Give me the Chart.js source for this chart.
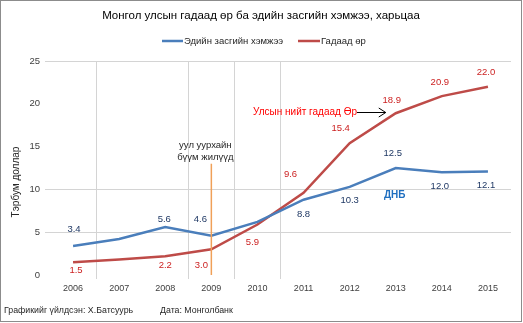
<!DOCTYPE html>
<html>
<head>
<meta charset="utf-8">
<script src="https://cdn.jsdelivr.net/npm/chart.js@4.4.0/dist/chart.umd.min.js"></script>
<style>
  html, body { margin: 0; padding: 0; background: #fff; }
  #wrap { width: 523px; height: 323px; position: relative; }
</style>
</head>
<body>
<div id="wrap"><canvas id="chart"></canvas></div>
<script>
// Data
const years = ['2006', '2007', '2008', '2009', '2010', '2011', '2012', '2013', '2014', '2015'];
const gdp = [3.4, 4.2, 5.6, 4.6, 6.2, 8.8, 10.3, 12.5, 12.0, 12.1];
const debt = [1.5, 1.8, 2.2, 3.0, 5.9, 9.6, 15.4, 18.9, 20.9, 22.0];
const gdpShown = [true, false, true, true, false, true, true, true, true, true];
const debtShown = [true, false, true, true, true, true, true, true, true, true];
const seriesNames = ['Эдийн засгийн хэмжээ', 'Гадаад өр'];
const yMin = 0, yMax = 25, yStep = 5;

// Layout bits (pixel offsets of value labels from their points)
const gdpLabelOffset = [[1, -17], null, [-1, -8], [-11, -16], null, [0, 15], [0, 14], [-3, -15], [-2, 14], [-2, 14]];
const debtLabelOffset = [[3, 8], null, [0, 9], [-10, 16], [-5, 18], [-13, -18], [-9, -15], [-4, -13], [-2, -14], [-2, -14]];

const FONT = "'Liberation Sans', Arial, sans-serif";
const BLUE = '#4a7ebb';
const RED = '#be4b48';
const GRID = '#d4d4d4';
const shownY = [5, 10, 25];
const shownX = [1, 3, 4, 5, 10];

Chart.defaults.font.family = FONT;
Chart.defaults.color = '#404040';

function font(size, weight) {
    return (weight || 'normal') + ' ' + size + 'px ' + FONT;
}

// Overlay: titles, legend, value labels, notes
const overlay = {
    id: 'overlay',
    afterDatasetsDraw(chart) {
        const { ctx, scales: { x, y } } = chart;
        ctx.save();

        // mining boom marker
        const bx = x.getPixelForValue(3);
        ctx.strokeStyle = '#f0a058';
        ctx.lineWidth = 1.5;
        ctx.beginPath();
        ctx.moveTo(bx, y.getPixelForValue(13.0));
        ctx.lineTo(bx, y.getPixelForValue(0));
        ctx.stroke();

        // value labels
        ctx.font = font(9.5);
        ctx.textAlign = 'center';
        ctx.textBaseline = 'middle';
        const drawLabels = (idx, vals, shown, offs, color) => {
            const meta = chart.getDatasetMeta(idx);
            ctx.fillStyle = color;
            meta.data.forEach((pt, i) => {
                if (!shown[i]) return;
                ctx.fillText(vals[i].toFixed(1), pt.x + offs[i][0], pt.y + offs[i][1]);
            });
        };
        drawLabels(0, gdp, gdpShown, gdpLabelOffset, '#1f3864');
        drawLabels(1, debt, debtShown, debtLabelOffset, '#cc2222');

        // notes
        ctx.fillStyle = '#262626';
        ctx.fillText('уул уурхайн', bx - 6, 145);
        ctx.fillText('бүүм жилүүд', bx - 6, 157);

        ctx.fillStyle = '#1f6fc0';
        ctx.font = font(10, 'bold');
        ctx.fillText('ДНБ', x.getPixelForValue(7) - 1, 195);

        ctx.fillStyle = '#ff0000';
        ctx.font = font(10);
        ctx.textAlign = 'right';
        ctx.fillText('Улсын нийт гадаад Өр', 357, 112);

        // arrow
        const ax = x.getPixelForValue(7) - 10;
        ctx.strokeStyle = '#000';
        ctx.lineWidth = 1;
        ctx.beginPath();
        ctx.moveTo(357, 112.5);
        ctx.lineTo(ax, 112.5);
        ctx.moveTo(ax - 7, 108);
        ctx.lineTo(ax, 112.5);
        ctx.lineTo(ax - 7, 117);
        ctx.stroke();
        ctx.restore();
    },
    afterDraw(chart) {
        const { ctx } = chart;
        ctx.save();
        ctx.textBaseline = 'middle';

        // title
        ctx.fillStyle = '#000';
        ctx.font = font(11.5);
        ctx.textAlign = 'center';
        ctx.fillText('Монгол улсын гадаад өр ба эдийн засгийн хэмжээ, харьцаа', 261, 16);

        // legend
        ctx.font = font(9.5);
        ctx.textAlign = 'left';
        ctx.fillStyle = '#262626';
        ctx.lineWidth = 2.5;
        ctx.strokeStyle = BLUE;
        ctx.beginPath(); ctx.moveTo(162, 41); ctx.lineTo(183, 41); ctx.stroke();
        ctx.fillText(seriesNames[0], 184, 41);
        ctx.strokeStyle = RED;
        ctx.beginPath(); ctx.moveTo(298, 41); ctx.lineTo(320, 41); ctx.stroke();
        ctx.fillText(seriesNames[1], 321, 41);

        // y axis title
        ctx.save();
        ctx.translate(16, 182);
        ctx.rotate(-Math.PI / 2);
        ctx.textAlign = 'center';
        ctx.font = font(10);
        ctx.fillText('Тэрбум доллар', 0, 0);
        ctx.restore();

        // footer
        ctx.font = font(8.8);
        ctx.fillText('Графикийг үйлдсэн: Х.Батсуурь', 4, 311);
        ctx.fillText('Дата: Монголбанк', 160, 311);

        // frame
        ctx.strokeStyle = '#8c8c8c';
        ctx.lineWidth = 1;
        ctx.strokeRect(0.5, 0.5, 521, 321);
        ctx.restore();
    }
};

// Chart
const chart = new Chart(document.getElementById('chart'), {
    type: 'line',
    data: {
        labels: years,
        datasets: [
            { label: seriesNames[0], data: gdp, borderColor: BLUE, borderWidth: 2.5, pointRadius: 0, tension: 0 },
            { label: seriesNames[1], data: debt, borderColor: RED, borderWidth: 2.5, pointRadius: 0, tension: 0 }
        ]
    },
    options: {
        responsive: true, maintainAspectRatio: false, animation: false,
        layout: { padding: { left: 0, top: 61, right: 12, bottom: 28 } },
        plugins: { legend: { display: false }, tooltip: { enabled: false } },
        scales: {
            x: {
                offset: true,
                border: { display: false },
                grid: {
                    offset: true, tickLength: 4, lineWidth: 1,
                    color: c => shownX.includes(c.index) ? GRID : 'rgba(0,0,0,0)'
                },
                ticks: { font: { size: 9 }, color: '#404040', padding: 4, maxRotation: 0 },
                afterFit: s => { s.height = 20; }
            },
            y: {
                min: yMin, max: yMax,
                border: { display: false },
                grid: {
                    tickLength: 5,
                    color: c => shownY.includes(c.tick && c.tick.value) ? GRID : 'rgba(0,0,0,0)'
                },
                ticks: { stepSize: yStep, font: { size: 9.5 }, color: '#404040', padding: 5 },
                afterFit: s => { s.width = 50; }
            }
        }
    },
    plugins: [overlay]
});
</script>
</body>
</html>
